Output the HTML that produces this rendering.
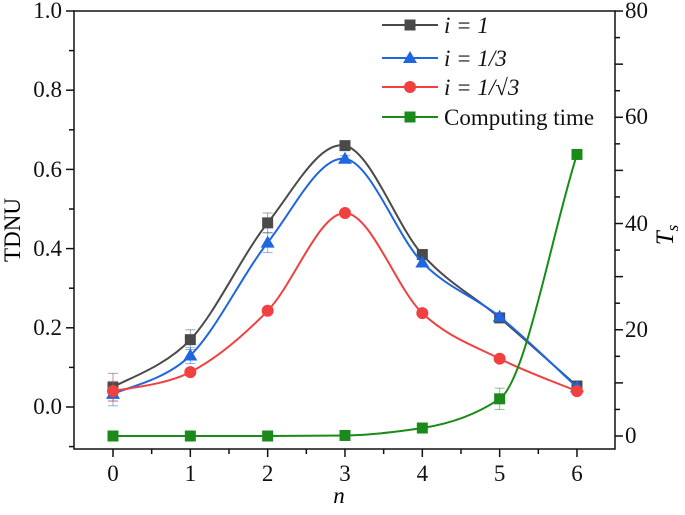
<!DOCTYPE html>
<html><head><meta charset="utf-8"><style>
body{margin:0;background:#fff}
svg, svg text{font-family:"Liberation Serif","DejaVu Serif","Times New Roman",serif}
</style></head><body>
<svg id="s" width="685" height="510" xmlns="http://www.w3.org/2000/svg">
<rect width="685" height="510" fill="#fff"/>
<g id="plot"></g>
<rect x="74" y="11" width="541" height="438" fill="none" stroke="#111" stroke-width="1.5"/>
<g id="ax" stroke="#111" stroke-width="1.5"></g>
<g font-size="23" fill="#111">
<text x="62" y="18" text-anchor="end">1.0</text>
<text x="62" y="97" text-anchor="end">0.8</text>
<text x="62" y="177" text-anchor="end">0.6</text>
<text x="62" y="256" text-anchor="end">0.4</text>
<text x="62" y="335" text-anchor="end">0.2</text>
<text x="62" y="414" text-anchor="end">0.0</text>
<text x="625" y="18">80</text>
<text x="625" y="124">60</text>
<text x="625" y="231">40</text>
<text x="625" y="337">20</text>
<text x="625" y="443">0</text>
</g>
<g font-size="23" text-anchor="middle" id="xl" fill="#111"></g>
<text x="339" y="503" font-size="23" font-style="italic" text-anchor="middle">n</text>
<text transform="translate(20,230) rotate(-90)" font-size="23" text-anchor="middle">TDNU</text>
<text transform="translate(673,235) rotate(-90)" font-size="25" font-style="italic" text-anchor="middle">T<tspan font-size="17" dy="5">s</tspan></text>
<g font-size="23" id="leg" fill="#111">
<text x="444" y="33" font-style="italic">i = 1</text>
<text x="444" y="66" font-style="italic">i = 1/3</text>
<text x="444" y="95" font-style="italic">i = 1/√3</text>
<text x="444" y="125">Computing time</text>
</g>
</svg>
<script>
const NS="http://www.w3.org/2000/svg";
const X=n=>113+n*77.33, YL=v=>407-v*396, YR=v=>436-v*5.3125;
const plot=document.getElementById('plot'),ax=document.getElementById('ax');
function el(p,t,a){const e=document.createElementNS(NS,t);for(const k in a)e.setAttribute(k,a[k]);p.appendChild(e);return e;}
function path(pts){let d=`M${pts[0][0]},${pts[0][1]}`;for(let i=0;i<pts.length-1;i++){const p0=pts[Math.max(0,i-1)],p1=pts[i],p2=pts[i+1],p3=pts[Math.min(pts.length-1,i+2)];
d+=` C${p1[0]+(p2[0]-p0[0])/6},${p1[1]+(p2[1]-p0[1])/6} ${p2[0]-(p3[0]-p1[0])/6},${p2[1]-(p3[1]-p1[1])/6} ${p2[0]},${p2[1]}`;}return d;}
function mono(pts){const n=pts.length,m=[];const dl=[];for(let i=0;i<n-1;i++)dl.push((pts[i+1][1]-pts[i][1])/(pts[i+1][0]-pts[i][0]));
for(let i=0;i<n;i++){if(i==0)m.push(dl[0]);else if(i==n-1)m.push(dl[n-2]);else m.push(dl[i-1]*dl[i]<=0?0:2/(1/dl[i-1]+1/dl[i]));}
let d=`M${pts[0][0]},${pts[0][1]}`;for(let i=0;i<n-1;i++){const h=(pts[i+1][0]-pts[i][0])/3;d+=` C${pts[i][0]+h},${pts[i][1]+m[i]*h} ${pts[i+1][0]-h},${pts[i+1][1]-m[i+1]*h} ${pts[i+1][0]},${pts[i+1][1]}`;}return d;}
for(let i=0;i<=10;i++){const y=407-i*39.6;if(y<10)break;el(ax,'line',{x1:74,x2:i%2?69:66,y1:y,y2:y});}
el(ax,'line',{x1:74,x2:69,y1:446.6,y2:446.6});
for(let i=0;i<=16;i++){const y=436-i*26.56;el(ax,'line',{x1:615,x2:i%2?620:623,y1:y,y2:y});}
const xl=document.getElementById('xl');
for(let i=-0.5;i<=6.5;i+=0.5){const x=X(i);if(x<75||x>614)continue;el(ax,'line',{x1:x,x2:x,y1:449,y2:Number.isInteger(i)?457:454});}
for(let i=0;i<=6;i++){const t=el(xl,'text',{x:X(i),y:481});t.textContent=i;}
const series=[
 {c:'#4a4a4a',m:'sq',v:[0.05,0.17,0.465,0.66,0.385,0.225,0.053],Y:YL,e:[0.035,0.025,0.025,0.01,0.01,0.005,0.005]},
 {c:'#1f66e0',m:'tri',v:[0.033,0.13,0.415,0.627,0.365,0.228,0.05],Y:YL,e:[0.03,0.02,0.025,0.008,0.008,0.005,0.005]},
 {c:'#f04040',m:'ci',v:[0.04,0.088,0.243,0.49,0.237,0.122,0.04],Y:YL,e:[0.025,0,0,0,0,0,0]},
 {c:'#1a8a1a',m:'sq',v:[0,0,0,0.1,1.5,7,53],Y:YR,e:[0,0,0,0,0,2,0.7],mono:1}];
for(const s of series){const pts=s.v.map((v,i)=>[X(i),s.Y(v)]);
 s.e.forEach((e,i)=>{if(!e)return;const x=pts[i][0],y1=s.Y(s.v[i]+e),y2=s.Y(s.v[i]-e);const g={stroke:s.c,'stroke-width':1,opacity:0.5};el(plot,'line',{x1:x,x2:x,y1,y2,...g});el(plot,'line',{x1:x-5,x2:x+5,y1,y2:y1,...g});el(plot,'line',{x1:x-5,x2:x+5,y1:y2,y2,...g});});
 el(plot,'path',{d:s.mono?mono(pts):path(pts),fill:'none',stroke:s.c,'stroke-width':2});
 const mk=(x,y)=>{if(s.m=='sq')el(plot,'rect',{x:x-5.5,y:y-5.5,width:11,height:11,fill:s.c});else if(s.m=='tri')el(plot,'polygon',{points:`${x},${y-7} ${x+7},${y+5} ${x-7},${y+5}`,fill:s.c});else el(plot,'circle',{cx:x,cy:y,r:6,fill:s.c});};
 pts.forEach(p=>mk(p[0],p[1]));
 s.mk=mk;}
const ly=[25,58,87,117];
series.forEach((s,i)=>{el(plot,'line',{x1:382,x2:438,y1:ly[i],y2:ly[i],stroke:s.c,'stroke-width':2});s.mk(410,ly[i]);});
</script>
</body></html>
